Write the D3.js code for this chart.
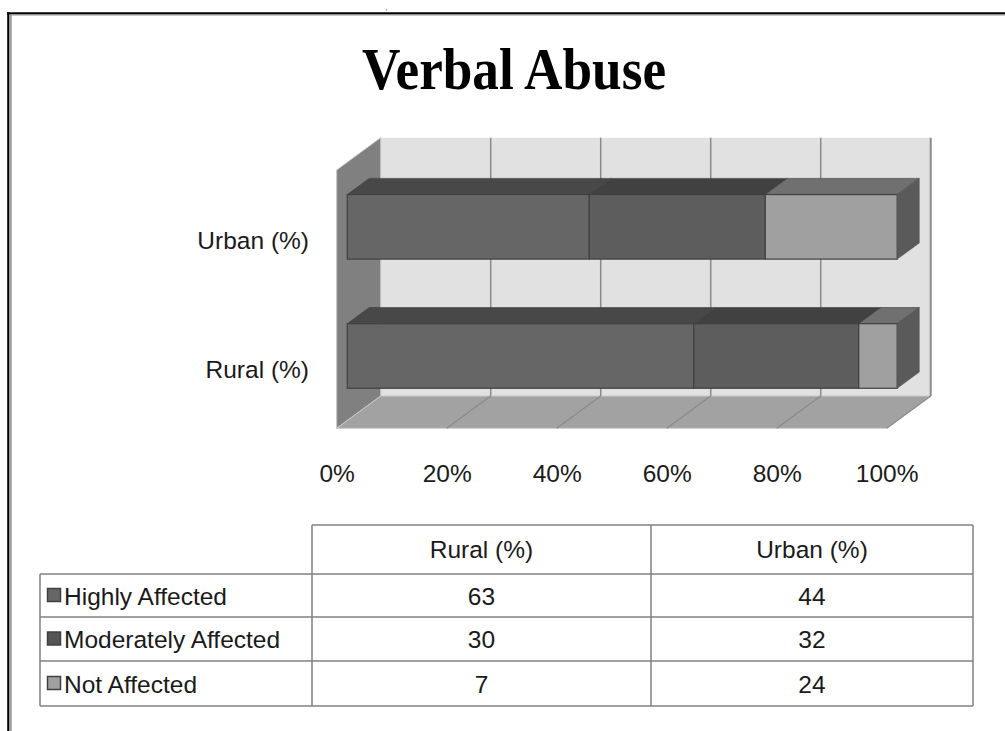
<!DOCTYPE html>
<html>
<head>
<meta charset="utf-8">
<script src="https://cdn.jsdelivr.net/npm/d3@7"></script>
<style>
  html, body { margin: 0; padding: 0; background: #fff; }
  svg { display: block; }
  text { font-family: "Liberation Sans", Arial, sans-serif; fill: #1a1a1a; }
</style>
</head>
<body>
<svg id="chart" width="1005" height="731"></svg>
<script>
// ---- data ----
const title = "Verbal Abuse";
const categories = ["Rural (%)", "Urban (%)"];
const seriesNames = ["Highly Affected", "Moderately Affected", "Not Affected"];
const highlyAffected = [63, 44];
const moderatelyAffected = [30, 32];
const notAffected = [7, 24];
const tickValues = [0, 20, 40, 60, 80, 100];
const tickLabels = ["0%", "20%", "40%", "60%", "80%", "100%"];

const seriesValues = [highlyAffected, moderatelyAffected, notAffected];
const frontColors = ["#666666", "#5d5d5d", "#a0a0a0"];
const topColors = ["#484848", "#414141", "#707070"];
const sideColors = ["#4a4a4a", "#444444", "#5a5a5a"];
const legendColors = ["#666666", "#555555", "#a0a0a0"];

const svg = d3.select("#chart");
const FS = 24.5;

// frame
svg.append("line").attr("x1", 7).attr("x2", 1005).attr("y1", 13.3).attr("y2", 13.3).attr("stroke", "#000").attr("stroke-width", 2.2);
svg.append("line").attr("x1", 8.3).attr("x2", 8.3).attr("y1", 12.3).attr("y2", 731).attr("stroke", "#000").attr("stroke-width", 2.2);
svg.append("line").attr("x1", 10).attr("x2", 1005).attr("y1", 15).attr("y2", 15).attr("stroke", "#999").attr("stroke-width", 1.2);
svg.append("line").attr("x1", 10.8).attr("x2", 10.8).attr("y1", 15).attr("y2", 731).attr("stroke", "#999").attr("stroke-width", 1.8);
svg.append("text").attr("x", 385).attr("y", 10).attr("font-size", 9).style("fill", "#777").text(",");

// title
svg.append("text")
  .attr("x", 514).attr("y", 89)
  .attr("text-anchor", "middle")
  .attr("font-size", 60).attr("font-weight", "bold")
  .attr("textLength", 304).attr("lengthAdjust", "spacingAndGlyphs")
  .style("font-family", "'Liberation Serif', 'Times New Roman', serif")
  .style("fill", "#000")
  .text(title);

// ---- 3D plot geometry ----
const DX = 44, DY = -32.3;
const Y0 = 170, Y1 = 428.3;
const x = d3.scaleLinear().domain([0, 100]).range([336.7, 886.7]);
const y = d3.scaleBand().domain(categories.slice().reverse()).range([Y0, Y1]).paddingInner(0.5).paddingOuter(0.25);
const P = (v, yy, d) => [x(v) + d * DX, yy + d * DY];
const poly = pts => pts.map(p => p.join(",")).join(" ");

const plot = svg.append("g");
// back wall
plot.append("polygon").attr("points", poly([P(0, Y0, 1), P(100, Y0, 1), P(100, Y1, 1), P(0, Y1, 1)]))
  .attr("fill", "#e1e1e1");
// side wall
plot.append("polygon").attr("points", poly([P(0, Y0, 0), P(0, Y0, 1), P(0, Y1, 1), P(0, Y1, 0)]))
  .attr("fill", "#808080").attr("stroke", "#c4c4c4").attr("stroke-width", 1);
// floor
plot.append("polygon").attr("points", poly([P(0, Y1, 0), P(0, Y1, 1), P(100, Y1, 1), P(100, Y1, 0)]))
  .attr("fill", "#a2a2a2").attr("stroke", "#c8c8c8").attr("stroke-width", 1);
// gridlines on back wall and floor
tickValues.filter(t => t > 0).forEach(t => {
  const a = P(t, Y0, 1), b = P(t, Y1, 1), c = P(t, Y1, 0);
  plot.append("line").attr("x1", a[0]).attr("y1", a[1]).attr("x2", b[0]).attr("y2", b[1])
    .attr("stroke", "#8a8a8a").attr("stroke-width", t === 100 ? 2 : 1.5);
  plot.append("line").attr("x1", b[0]).attr("y1", b[1]).attr("x2", c[0]).attr("y2", c[1])
    .attr("stroke", "#8a8a8a").attr("stroke-width", 1.2);
});

// bars
const D0 = 0.24, D1 = 0.74;
categories.forEach((cat, ci) => {
  const yt = y(cat), yb = y(cat) + y.bandwidth();
  let acc = 0;
  seriesValues.forEach((vals, si) => {
    const v0 = acc, v1 = acc + vals[ci];
    acc = v1;
    const g = plot.append("g");
    // top face
    g.append("polygon").attr("points", poly([P(v0, yt, D0), P(v1, yt, D0), P(v1, yt, D1), P(v0, yt, D1)]))
      .attr("fill", topColors[si]).attr("stroke", "#3c3c3c").attr("stroke-width", 0.6);
    // front face
    const f0 = P(v0, yt, D0), f1 = P(v1, yb, D0);
    g.append("rect").attr("x", f0[0]).attr("y", f0[1]).attr("width", f1[0] - f0[0]).attr("height", f1[1] - f0[1])
      .attr("fill", frontColors[si]).attr("stroke", "#404040").attr("stroke-width", 1.2);
    if (si === seriesValues.length - 1) {
      g.append("polygon").attr("points", poly([P(v1, yt, D0), P(v1, yt, D1), P(v1, yb, D1), P(v1, yb, D0)]))
        .attr("fill", sideColors[si]).attr("stroke", "#555").attr("stroke-width", 0.6);
    }
  });
});

// x axis labels
const xAxis = d3.axisBottom(x).tickValues(tickValues).tickFormat((d, i) => tickLabels[i]).tickSize(0).tickPadding(0);
svg.append("g").attr("transform", "translate(0,464.6)").call(xAxis)
  .call(g => g.select(".domain").remove())
  .call(g => g.selectAll("text").attr("font-size", FS).style("font-family", "'Liberation Sans', Arial, sans-serif").style("fill", "#1a1a1a"));

// category labels
const yAxis = d3.axisLeft(y).tickSize(0).tickPadding(0);
svg.append("g").attr("transform", `translate(309,${DY * (D0 + D1) / 2 + 23})`).call(yAxis)
  .call(g => g.select(".domain").remove())
  .call(g => g.selectAll("text").attr("font-size", FS).attr("dy", "0.3em").style("font-family", "'Liberation Sans', Arial, sans-serif").style("fill", "#1a1a1a"));

// ---- data table ----
const colX = [40, 312, 651, 973];
const rowY = [525, 574, 617, 661, 706];
const tbl = svg.append("g").attr("stroke", "#808080").attr("stroke-width", 1.5);
tbl.append("line").attr("x1", colX[1]).attr("x2", colX[3]).attr("y1", rowY[0]).attr("y2", rowY[0]);
rowY.slice(1).forEach(ry => tbl.append("line").attr("x1", colX[0]).attr("x2", colX[3]).attr("y1", ry).attr("y2", ry));
tbl.append("line").attr("x1", colX[0]).attr("x2", colX[0]).attr("y1", rowY[1]).attr("y2", rowY[4]);
colX.slice(1).forEach(cx => tbl.append("line").attr("x1", cx).attr("x2", cx).attr("y1", rowY[0]).attr("y2", rowY[4]));

const tText = svg.append("g").attr("font-size", FS);
categories.forEach((cat, ci) => {
  tText.append("text").attr("x", (colX[ci + 1] + colX[ci + 2]) / 2).attr("y", rowY[0] + 33)
    .attr("text-anchor", "middle").text(cat);
});
seriesNames.forEach((name, si) => {
  const ry = rowY[si + 1], cy = (ry + rowY[si + 2]) / 2;
  svg.append("rect").attr("x", 47.5).attr("y", cy - 7).attr("width", 13).attr("height", 13)
    .attr("fill", legendColors[si]).attr("stroke", "#404040").attr("stroke-width", 1.5);
  tText.append("text").attr("x", 64).attr("y", cy + 9).text(name);
  categories.forEach((cat, ci) => {
    tText.append("text").attr("x", (colX[ci + 1] + colX[ci + 2]) / 2).attr("y", cy + 9)
      .attr("text-anchor", "middle").text(seriesValues[si][ci]);
  });
});
</script>
</body>
</html>
